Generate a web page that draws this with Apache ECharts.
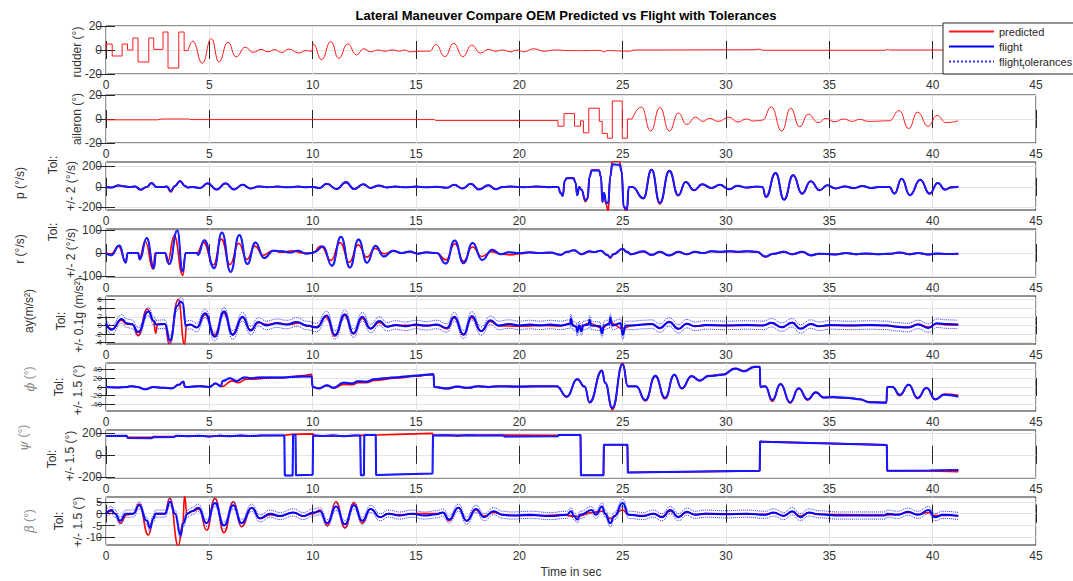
<!DOCTYPE html>
<html><head><meta charset="utf-8">
<script src="https://cdn.jsdelivr.net/npm/echarts@6/dist/echarts.min.js"></script>
<style>html,body{margin:0;padding:0;background:#fff}#c{width:1073px;height:581px}</style>
</head><body><div id="c"></div>
<script>
// ---------------- DATA (time s, value) ----------------
const TITLE = 'Lateral Maneuver Compare OEM Predicted vs Flight with Tolerances';
const X_LABEL = 'Time in sec';
const SERIES_NAMES = ['predicted', 'flight', 'flight_tolerances'];

const RUDDER_STEPS = [[0,0],[0,5],[0.3,5],[0.3,-5],[0.78,-5],[0.78,5],[1.04,5],[1.04,0],[1.3,0],[1.3,10],[1.55,10],[1.55,-10],[2.07,-10],[2.07,10],[2.31,10],[2.31,0.5],[2.76,0.5],[2.76,15],[3.0,15],[3.0,-15],[3.52,-15],[3.52,15],[3.78,15],[3.78,-0.5],[3.97,-0.5]];
const RUDDER_OSC = [[3.97,-0.5],[4.2,7.3],[4.66,-11],[5.1,9.6],[5.46,-10],[5.9,6.5],[6.29,-5.7],[6.74,2.3],[7.12,-2],[7.5,0.5],[7.84,-1.5],[8.15,0.3],[8.5,-2],[8.84,0.8],[9.33,-2.5],[9.67,-0.5],[9.96,-1],[10.02,5],[10.43,-8],[10.88,7],[11.26,-7],[11.69,5],[12.12,-4],[12.47,1],[12.8,-1.5],[13.16,0],[13.5,-1],[13.85,0],[14.2,-1],[14.45,0],[14.7,-1.5],[15.2,-1],[15.66,-1],[15.96,4.5],[16.4,-5.5],[16.82,5.5],[17.27,-5.5],[17.69,4],[18.12,-2.5],[18.5,0.5],[18.86,-1],[19.2,0],[19.55,-1.5],[19.9,0],[20.2,-1.5],[20.7,1],[21.2,-1],[21.7,0],[22.5,-0.5],[23.1,-0.5],[23.9,-0.3],[24.06,-1.5],[24.3,-0.5],[25.3,-1],[25.6,0],[31.3,0.2],[31.6,0.7],[31.8,-0.2],[37.7,-0.2],[37.8,0.5],[37.95,0],[41.27,0]];

const AILERON_STEPS = [[0,-0.7],[2.5,-0.7],[2.7,0],[4.0,0],[4.1,-0.5],[15.9,-0.5],[15.95,-1.2],[21.87,-1.2],[21.87,-6],[22.16,-6],[22.16,4.5],[22.67,4.5],[22.67,-6],[22.96,-6],[22.96,-1.5],[23.1,-1.5],[23.1,-11.5],[23.36,-11.5],[23.36,9],[23.87,9],[23.87,-2],[24.01,-2],[24.01,-12],[24.26,-12],[24.26,-16],[24.5,-16],[24.5,15],[24.98,15],[24.98,-16],[25.23,-16],[25.23,0],[25.46,0]];
const AILERON_OSC = [[25.46,0],[25.9,10],[26.36,-10],[26.8,9.7],[27.26,-10],[27.69,5],[28.1,-4.5],[28.53,1.5],[28.87,-2],[29.2,0.5],[29.63,-2],[30.14,1.5],[30.57,-2.5],[30.99,0],[31.33,-1.7],[31.76,-1],[32.19,10],[32.7,-10],[33.13,9],[33.56,-6.5],[33.98,4],[34.46,-3],[34.84,0.5],[35.26,-2.3],[35.69,0],[36.12,-2],[36.46,-0.3],[36.89,-2],[37.9,-1.5],[38.38,7],[38.84,-8],[39.27,5.7],[39.78,-6],[40.21,2.9],[40.64,-3],[41.24,-1.5]];

const P_PRED = [[0,0],[0.27,-5],[0.6,15],[0.92,5],[1.16,0],[1.4,5],[1.68,-30],[1.97,0],[2.2,40],[2.45,0],[2.77,0],[2.94,5],[3.13,-50],[3.34,10],[3.58,60],[3.82,10],[3.94,-5],[4.19,0],[4.55,-12],[4.92,35],[5.35,-28],[5.79,35],[6.19,-25],[6.61,22],[7.0,-15],[7.4,5],[7.8,-3],[8.3,3],[8.8,-3],[9.3,3],[9.7,-2],[10.03,0],[10.32,-12],[10.68,30],[11.16,-22],[11.61,42],[12.0,-20],[12.45,25],[12.8,-10],[13.2,12],[13.58,-5],[14.0,3],[14.5,-3],[15.0,3],[15.5,-3],[16.0,2],[16.5,-8],[16.85,20],[17.25,-15],[17.65,28],[18.05,-20],[18.5,15],[18.85,-18],[19.2,0],[19.6,3],[20.2,-3],[20.8,3],[21.4,-2],[21.87,0],[22.0,-60],[22.1,-90],[22.2,60],[22.3,90],[22.62,90],[22.72,40],[22.8,-80],[22.9,0],[23.0,-30],[23.2,-145],[23.3,-120],[23.4,100],[23.5,165],[23.85,165],[23.95,100],[24.02,-150],[24.1,-60],[24.2,-170],[24.3,-240],[24.4,100],[24.5,250],[24.85,250],[24.95,150],[25.05,-200],[25.2,-250],[25.3,0],[25.46,0],[26.0,-115],[26.4,170],[26.8,-165],[27.26,160],[27.69,-85],[28.05,50],[28.45,-35],[28.85,25],[29.3,-12],[29.7,20],[30.15,-25],[30.55,12],[31.0,-8],[31.5,2],[31.76,0],[31.93,-100],[32.4,135],[32.81,-125],[33.25,115],[33.68,-68],[34.1,55],[34.53,-35],[34.9,16],[35.3,-15],[35.75,5],[36.18,-12],[36.6,8],[37.03,-10],[37.4,0],[37.9,0],[38.15,-65],[38.5,80],[38.9,-80],[39.4,70],[39.85,-68],[40.25,40],[40.6,-28],[40.9,0],[41.24,2]];
const P_FLIGHT = [[0,0],[0.27,-5],[0.6,15],[0.92,5],[1.16,0],[1.4,5],[1.68,-25],[1.97,0],[2.2,35],[2.45,0],[2.77,0],[2.94,5],[3.13,-40],[3.34,10],[3.58,55],[3.82,10],[3.94,-5],[4.19,0],[4.55,-10],[4.92,35],[5.35,-25],[5.79,35],[6.19,-25],[6.61,20],[7.0,-15],[7.4,5],[7.8,-3],[8.3,4],[8.8,-4],[9.3,3],[9.7,-3],[10.03,0],[10.32,-10],[10.68,32],[11.16,-20],[11.61,48],[12.0,-20],[12.45,25],[12.8,-10],[13.2,15],[13.58,-5],[14.0,4],[14.5,-4],[15.0,3],[15.5,-4],[16.0,2],[16.5,-8],[16.85,22],[17.25,-16],[17.65,32],[18.05,-25],[18.5,16],[18.85,-22],[19.2,0],[19.6,4],[20.2,-3],[20.8,4],[21.4,-2],[21.87,0],[22.0,-60],[22.1,-85],[22.2,60],[22.3,85],[22.62,85],[22.72,40],[22.8,-80],[22.9,0],[23.0,-25],[23.2,-130],[23.3,-110],[23.4,100],[23.5,160],[23.85,160],[23.95,100],[24.02,-145],[24.1,-60],[24.2,-150],[24.3,-160],[24.4,100],[24.5,220],[24.85,215],[24.95,150],[25.05,-190],[25.2,-220],[25.3,0],[25.46,0],[26.0,-110],[26.4,168],[26.8,-155],[27.26,155],[27.69,-80],[28.05,48],[28.45,-32],[28.85,25],[29.3,-10],[29.7,20],[30.15,-22],[30.55,12],[31.0,-6],[31.5,3],[31.76,0],[31.93,-97],[32.4,135],[32.81,-123],[33.25,113],[33.68,-65],[34.1,55],[34.53,-32],[34.9,16],[35.3,-15],[35.75,5],[36.18,-12],[36.6,8],[37.03,-10],[37.4,0],[37.9,0],[38.15,-65],[38.5,80],[38.9,-80],[39.4,70],[39.85,-65],[40.25,39],[40.6,-26],[40.9,-5],[41.24,2]];

const R_PRED = [[0,0],[0.25,-5],[0.6,30],[0.95,-35],[1.05,0],[1.55,0],[1.62,-20],[1.9,50],[2.28,-70],[2.38,0],[2.85,0],[2.98,-40],[3.3,75],[3.72,-97],[3.85,0],[4.4,0],[4.72,45],[5.2,-52],[5.58,60],[6.0,-50],[6.42,42],[6.82,-28],[7.2,30],[7.6,-10],[8.05,10],[8.5,3],[9.0,10],[9.5,0],[10.0,0],[10.4,30],[10.88,-32],[11.33,45],[11.77,-40],[12.2,35],[12.62,-18],[13.02,20],[13.45,-3],[13.9,8],[14.3,0],[14.7,5],[15.1,-2],[15.5,2],[16.0,0],[16.45,-30],[16.88,40],[17.3,-35],[17.73,26],[18.18,-15],[18.65,6],[19.1,-5],[19.6,-8],[20.0,-3],[20.5,2],[21.0,-1],[21.5,1],[22.0,-8],[22.3,4],[22.65,12],[23.0,-6],[23.4,6],[23.6,3],[23.95,9],[24.25,-10],[24.4,-22],[24.55,-6],[25.0,16],[25.2,5],[25.4,-6],[26.0,6],[26.4,-10],[26.8,4],[27.25,-12],[27.7,4],[28.1,-6],[28.5,4],[28.9,0],[29.3,7],[29.7,5],[30.2,7],[30.6,5],[31.0,7],[31.5,5],[31.9,-17],[32.3,-4],[32.8,4],[33.2,-6],[33.7,4],[34.1,-11],[34.5,-4],[35.3,-6],[35.8,-1],[36.3,-6],[36.8,-3],[37.3,-5],[37.9,-4],[38.4,1],[38.9,-6],[39.3,-1],[39.8,-7],[40.2,-3],[40.7,-5],[41.24,-4]];
const R_FLIGHT = [[0,0],[0.25,-10],[0.65,32],[0.95,-42],[1.06,0],[1.55,0],[1.63,-28],[1.97,65],[2.32,-66],[2.42,0],[2.85,0],[3.06,-48],[3.45,98],[3.71,-80],[3.86,0],[4.4,0],[4.45,-8],[4.76,55],[5.23,-66],[5.61,89],[6.03,-82],[6.45,78],[6.84,-48],[7.23,46],[7.65,-22],[8.1,10],[8.5,8],[8.9,2],[9.3,10],[9.7,-3],[10.0,0],[10.1,5],[10.5,28],[10.93,-55],[11.37,70],[11.8,-63],[12.22,58],[12.63,-42],[13.04,31],[13.44,-15],[13.9,10],[14.3,0],[14.7,6],[15.1,-3],[15.5,3],[16.0,0],[16.44,-46],[16.87,54],[17.3,-44],[17.74,43],[18.2,-30],[18.69,14],[19.1,-5],[19.5,3],[20.0,0],[20.5,3],[21.0,0],[21.5,2],[22.0,-8],[22.3,5],[22.65,12],[23.0,-5],[23.4,8],[23.6,4],[23.95,10],[24.25,-8],[24.4,-18],[24.55,-5],[25.0,18],[25.2,5],[25.4,-5],[26.0,8],[26.4,-8],[26.8,5],[27.25,-10],[27.7,5],[28.1,-5],[28.5,5],[28.9,0],[29.3,8],[29.7,5],[30.2,8],[30.6,5],[31.0,8],[31.5,5],[31.9,-15],[32.3,-3],[32.8,5],[33.2,-5],[33.7,5],[34.1,-10],[34.5,-3],[35.3,-6],[35.8,0],[36.3,-5],[36.8,-2],[37.3,-5],[37.9,-3],[38.4,2],[38.9,-5],[39.3,0],[39.8,-6],[40.2,-2],[40.7,-4],[41.24,-3]];

const AY_PRED = [[0,0.3],[0.3,-0.8],[0.75,1.2],[1.0,0.3],[1.3,0.2],[1.55,-2.3],[2.0,3.8],[2.3,1],[2.4,-1.8],[2.5,0.3],[2.85,0.3],[3.05,-4.2],[3.5,6],[3.8,-4.4],[3.9,0],[4.1,0.2],[4.4,-0.5],[4.8,2.5],[5.25,-2.2],[5.7,2.8],[6.12,-2],[6.6,1.8],[7.0,-1],[7.4,0.6],[7.8,0.2],[8.3,0.6],[8.8,0.2],[9.3,0.5],[9.8,-0.2],[10.2,-0.3],[10.65,1.9],[11.08,-2.5],[11.55,2.3],[11.97,-2],[12.4,1.6],[12.8,-0.8],[13.23,0.7],[13.6,-0.3],[14,0],[15,0],[16.0,0.1],[16.5,-0.8],[16.85,1.7],[17.3,-2.2],[17.7,1.8],[18.15,-1.4],[18.6,0.9],[19.0,-0.1],[20,-0.2],[21,0],[22,-0.1],[22.5,0.5],[22.8,-0.5],[23.4,0.5],[24.0,-0.6],[24.4,0.6],[25.0,-0.7],[25.5,0],[26.4,0.4],[26.8,-0.7],[27.25,0.9],[27.7,-0.8],[28.1,0.4],[28.5,-0.2],[29,0],[31.8,0],[32.2,0.5],[32.7,-0.5],[33.2,0.7],[33.6,-0.7],[34.1,0.3],[34.5,-0.2],[35,0],[37.8,0],[38.2,-0.2],[38.8,-0.4],[39.3,0.3],[39.8,-0.4],[40.2,0.4],[40.7,0.1],[41.24,0.1]];
const AY_FLIGHT = [[0,0.5],[0.27,-1],[0.76,1.5],[1.0,0.5],[1.24,0.3],[1.56,-1.5],[2.05,3.2],[2.32,1],[2.42,0.2],[2.85,0.3],[3.1,-3.5],[3.45,4.5],[3.6,5.5],[3.71,5.2],[3.86,0],[4.06,0.2],[4.39,-0.5],[4.79,2.8],[5.27,-2.6],[5.71,3.2],[6.13,-2.2],[6.61,2],[7.0,-1.2],[7.37,0.8],[7.77,0],[8.26,0.5],[8.74,0.2],[9.23,0.8],[9.71,0],[10.19,-0.5],[10.68,2.3],[11.08,-2.2],[11.56,2.6],[11.97,-1.8],[12.4,2],[12.8,-0.7],[13.23,1],[13.6,-0.3],[14.0,0.1],[14.5,-0.2],[15.0,0.2],[15.5,-0.1],[16.0,0.2],[16.5,-0.6],[16.85,2],[17.3,-2.1],[17.7,2.2],[18.15,-1.3],[18.6,1.2],[19.0,0],[19.5,0.3],[20.0,0],[20.5,0.2],[21.0,0],[21.5,0.2],[22.0,0],[22.45,0.3],[22.5,1.6],[22.58,0],[22.75,-0.3],[22.8,-1.5],[22.9,0],[23.0,-1.3],[23.1,0],[23.35,0.2],[23.4,1.3],[23.48,0],[23.9,-0.2],[24.0,-1.8],[24.1,0],[24.35,0.3],[24.4,1.8],[24.5,0],[24.9,0.5],[25.0,-2.2],[25.15,0],[25.5,0],[26.0,0.2],[26.4,0.3],[26.8,-0.6],[27.25,0.8],[27.7,-0.8],[28.1,0.4],[28.5,-0.2],[29.0,0.1],[30.0,0],[31.0,0.1],[31.8,0],[32.2,0.6],[32.7,-0.4],[33.2,0.6],[33.6,-0.8],[34.1,0.3],[34.5,-0.2],[35.0,0.1],[36.0,0],[37.0,0.1],[37.8,0],[38.2,-0.3],[38.8,-0.5],[39.3,0.2],[39.8,-0.6],[40.2,0.5],[40.7,0.3],[41.24,0.2]];

const PHI_PRED = [[0,0],[0.5,-1],[1.0,0],[1.2,2],[1.5,0],[1.9,-5],[2.3,0],[2.8,-2],[3.2,-3],[3.5,4],[3.75,11],[3.82,0],[4.0,0],[4.5,2],[5.0,0],[5.3,8],[5.6,1],[6.1,14],[6.4,10],[6.8,18],[7.2,18],[7.7,20],[8.5,21],[9.0,24],[9.5,26],[9.95,29],[10.0,0],[10.3,-4],[10.7,3],[11.0,-3],[11.5,6],[11.9,5],[12.2,10],[12.6,10],[13.0,15],[14.0,20],[15.0,25],[15.85,29],[15.88,0],[16.5,-4],[17.0,0],[17.5,-3],[18.0,1],[18.5,-1],[19.0,1],[20.0,0],[21.0,1],[21.8,1],[22.3,-23],[22.8,18],[23.16,0],[23.4,-36],[24.0,38],[24.15,10],[24.5,-52],[25.0,55],[25.25,1],[25.65,1],[26.1,-32],[26.58,26],[27.05,-27],[27.5,28],[27.86,-4],[28.34,24],[28.73,14],[29.16,26],[29.84,29],[30.44,43],[30.87,37],[31.38,47],[31.64,47],[31.66,0],[31.9,1],[32.24,-33],[32.64,6],[33.1,-37],[33.52,-4],[33.95,-30],[34.35,-13],[34.72,-24],[35.15,-24],[35.92,-25],[36.44,-28],[36.95,-34],[37.76,-35],[37.8,0],[38.06,0],[38.4,-20],[38.84,5],[39.27,-27],[39.7,-3],[40.13,-29],[40.56,-16],[41.24,-19]];
const PHI_FLIGHT = [[0,0],[0.5,-1],[1.0,0],[1.2,2],[1.5,0],[1.9,-5],[2.3,0],[2.8,-2],[3.2,-3],[3.5,5],[3.75,12],[3.82,0],[4.0,0],[4.5,2],[5.0,0],[5.3,8],[5.55,2],[5.65,14],[6.0,20],[6.3,14],[6.7,22],[7.0,20],[7.5,22],[8.0,22],[8.5,22],[9.0,23],[9.5,24],[9.95,24],[10.0,0],[10.3,-3],[10.7,4],[11.0,-2],[11.5,10],[11.9,8],[12.2,13],[12.6,12],[13.0,18],[13.5,20],[14.0,22],[14.5,24],[15.0,26],[15.5,28],[15.85,29],[15.88,0],[16.5,-3],[17.0,1],[17.5,-2],[18.0,2],[18.5,0],[19.0,2],[20.0,1],[21.0,2],[21.8,2],[22.3,-22],[22.8,18],[23.16,1],[23.4,-35],[24.0,37],[24.15,10],[24.5,-48],[25.0,52],[25.25,2],[25.65,2],[26.1,-30],[26.58,25],[27.05,-25],[27.5,28],[27.86,-3],[28.34,25],[28.73,15],[29.16,25],[29.84,28],[30.44,42],[30.87,36],[31.38,46],[31.64,46],[31.66,0],[31.9,2],[32.24,-30],[32.64,7],[33.1,-35],[33.52,-3],[33.95,-28],[34.35,-12],[34.72,-24],[35.15,-23],[35.92,-25],[36.44,-28],[36.95,-35],[37.76,-36],[37.8,0],[38.06,0],[38.4,-18],[38.84,5],[39.27,-25],[39.7,-2],[40.13,-28],[40.56,-18],[41.24,-22]];

const PSI_PRED = [[0,170],[1.0,172],[1.05,162],[2.2,158],[2.3,165],[3.3,165],[3.4,172],[4.0,168],[4.5,172],[5.0,166],[5.5,174],[6.0,168],[6.5,175],[7.0,170],[7.5,175],[8.63,178],[9.0,185],[10.0,190],[10.1,176],[10.5,171],[11.0,176],[11.5,169],[12.0,175],[12.3,176],[13.1,180],[14.5,188],[15.8,194],[15.82,178],[17.0,176],[19.3,180],[21.87,178],[21.9,180],[22.96,180],[22.98,-185],[24.07,-185],[24.09,92],[25.23,92],[25.25,-160],[31.63,-145],[31.65,120],[37.78,90],[37.8,-145],[39.85,-145],[41.24,-152]];
const PSI_FLIGHT = [[0,170],[1.0,172],[1.05,153],[2.2,150],[2.3,160],[3.3,162],[3.4,172],[4.0,168],[4.5,172],[5.0,165],[5.5,174],[6.0,168],[6.5,175],[7.0,170],[7.5,175],[8.63,176],[8.65,-188],[9.03,-188],[9.05,180],[9.17,180],[9.19,-185],[10.0,-180],[10.02,175],[10.5,170],[11.0,175],[11.5,168],[12.0,175],[12.3,175],[12.33,-185],[12.48,-185],[12.5,180],[13.05,180],[13.07,-182],[15.8,-170],[15.82,175],[16.5,178],[17.0,172],[17.5,178],[18.0,175],[19.2,176],[19.3,165],[21.87,168],[21.9,180],[22.96,180],[22.98,-185],[24.07,-185],[24.09,92],[25.23,92],[25.25,-160],[31.63,-145],[31.65,120],[37.78,90],[37.8,-145],[39.85,-142],[41.24,-138]];

const BETA_PRED = [[0,0],[0.27,1],[0.45,0],[0.7,-4],[1.0,-0.5],[1.32,0],[1.6,4],[2.05,-9],[2.3,-2],[2.4,0],[2.85,0],[3.08,6.5],[3.5,-13.5],[3.72,-4],[3.8,7.5],[3.92,0],[4.2,1],[4.5,2],[4.87,-7],[5.27,6.5],[5.71,-8],[6.16,5],[6.56,-5.5],[7.05,2.5],[7.45,-2],[7.94,-0.5],[8.42,-1],[9.06,0.5],[9.55,-1],[10.03,0],[10.35,1.5],[10.71,-5],[11.13,5],[11.56,-6],[12.0,4.5],[12.4,-4],[12.8,2],[13.26,-1.5],[13.66,0],[14.2,-0.5],[15,0],[16.0,0],[16.3,0.5],[16.6,-3],[17.05,2.5],[17.45,-3],[17.9,1.5],[18.3,-1],[18.75,0.5],[19.2,-0.5],[20,-0.8],[21,-0.8],[22,-0.5],[22.8,-1.2],[23.5,0.5],[24.0,1],[24.4,-2],[25.0,1.5],[25.3,-0.5],[26.0,-0.8],[26.5,0],[26.9,-1.2],[27.3,1],[27.7,-1.2],[28.1,0.5],[28.5,-0.3],[29,0],[31,-0.2],[31.9,-0.3],[32.3,0.3],[32.8,-0.8],[33.2,0.8],[33.6,-1],[34.0,0.3],[34.5,-0.3],[37.7,-0.6],[38.3,-0.3],[38.8,0.5],[39.3,-0.3],[39.8,0.5],[40.1,-0.8],[41.24,-0.8]];
const BETA_FLIGHT = [[0,0],[0.27,1.5],[0.43,0],[0.68,-3],[0.97,0],[1.32,0],[1.61,3.5],[1.97,-3],[2.13,-6],[2.29,-2],[2.4,0],[2.85,0],[3.1,5],[3.34,0],[3.61,-9],[3.74,-4],[3.94,0],[4.15,1],[4.47,2.5],[4.87,-4],[5.27,4.5],[5.71,-5],[6.16,3.5],[6.56,-4],[7.05,2.5],[7.45,-2],[7.94,0],[8.42,-1],[9.06,0.5],[9.55,-1],[10.03,0.5],[10.35,1],[10.71,-4],[11.13,3],[11.56,-4.5],[12.0,3.5],[12.4,-3],[12.8,2],[13.26,-1.5],[13.66,0],[14.2,-0.8],[14.8,0],[15.4,-0.8],[16.0,-0.3],[16.3,0.5],[16.6,-2.5],[17.05,2.5],[17.45,-3],[17.9,2],[18.3,-1.5],[18.75,1],[19.2,-0.5],[19.6,-0.8],[20.5,-0.5],[21.5,-1],[22.3,-0.5],[22.5,1],[22.65,-1],[22.8,-2.5],[22.95,-0.5],[23.5,1.5],[23.7,-0.5],[24.0,3],[24.15,0],[24.4,-4],[24.6,-1],[25.0,4.5],[25.3,-0.5],[26.0,-1],[26.5,0],[26.9,-1.5],[27.3,1.5],[27.7,-1.5],[28.1,0.8],[28.5,-0.5],[29.0,0],[30,-0.3],[31,0],[31.9,-0.5],[32.3,0.5],[32.8,-1],[33.2,1],[33.6,-1.5],[34.0,0.5],[34.5,-0.3],[35.5,-0.8],[36.5,-0.8],[37.7,-0.8],[37.8,0],[38.3,-0.5],[38.8,0.8],[39.3,-0.5],[39.8,1.5],[40.1,-1.5],[40.5,-0.5],[41.24,-1]];

// tolerances stated on the chart
const P_TOL = 2, R_TOL = 2, AY_TOL = 0.981, PHI_TOL = 1.5, PSI_TOL = 1.5, BETA_TOL = 1.5;

// axis limits and tick values per panel
const Y_LIMITS = [[-20,20],[-20,20],[-225,243],[-104,104],[-4.3,6.8],[-55,55],[-210,225],[-13.2,7]];
const Y_TICKS = [[-20,0,20],[-20,0,20],[-200,0,200],[-100,0,100],[-4,-2,0,2,4,6],[-40,-20,0,20,40],[-200,0,200],[-10,-5,0,5]];
const X_MIN = 0, X_MAX = 45, X_STEP = 5;

// y-axis label texts
const NAME_TEXT = ['rudder (°)','aileron (°)','p (°/s)','r (°/s)','ay(m/s²)','{i|ϕ} (°)','{i|ψ} (°)','{i|β} (°)'];
const TOL_HEAD = [null,null,'Tol:','Tol:','Tol:','Tol:','Tol:','Tol:'];
const TOL_TEXT = [null,null,'+/- 2 (°/s)','+/- 2 (°/s)','+/- 0.1g (m/s²)','+/- 1.5 (°)','+/- 1.5 (°)','+/- 1.5 (°)'];

// ---------------- LAYOUT ----------------
const GRID_LEFT = 106, GRID_W = 930, GRID_H = 48;
const GRID_TOPS = [26, 95, 162, 229, 296, 363, 430, 497];
const Y_TICK_FONT = [12, 12, 12, 12, 8, 8, 12, 11];
// [x, dy] positions of labels relative to panel centre
const NAME_POS = [[77,2],[77,0],[20,-3],[20,-4],[29,-9],[29,-8],[23,-16],[29,0]];
const HEAD_POS = [null,null,[53,-21],[53,-21],[61,1],[59,0],[52,5],[59,0]];
const TOLT_POS = [null,null,[71,0],[71,0],[79,-5],[78,3],[70,2],[78,1]];
const NAME_GRAY = [false,false,false,false,false,true,true,true];

const FONT = 'Liberation Sans';
const AX_COLOR = '#262626';
const GRID_COLOR = '#e4e4e4';

const chart = echarts.init(document.getElementById('c'), null, {renderer: 'svg', width: 1073, height: 581});

const grids = [], xAxes = [], yAxes = [], series = [], graphics = [];
GRID_TOPS.forEach((top, i) => {
  grids.push({left: GRID_LEFT, top: top, width: GRID_W, height: GRID_H, show: true,
    borderColor: AX_COLOR, borderWidth: 1, backgroundColor: '#fff', containLabel: false});
  const last = i === GRID_TOPS.length - 1;
  xAxes.push({gridIndex: i, type: 'value', position: 'bottom', min: X_MIN, max: X_MAX, interval: X_STEP,
    axisLine: {show: false},
    axisTick: {show: true, inside: true, length: 9, lineStyle: {color: AX_COLOR}},
    axisLabel: {show: true, fontSize: 12, color: '#333', margin: 5, fontFamily: FONT},
    splitLine: {show: true, lineStyle: {color: GRID_COLOR, width: 1}},
    name: last ? X_LABEL : '', nameLocation: 'middle', nameGap: 21,
    nameTextStyle: {fontSize: 12, color: '#333', fontFamily: FONT}});
  xAxes.push({gridIndex: i, type: 'value', position: 'top', min: X_MIN, max: X_MAX, interval: X_STEP,
    axisLine: {show: false}, axisTick: {show: true, inside: true, length: 9, lineStyle: {color: AX_COLOR}},
    axisLabel: {show: false}, splitLine: {show: false}});
  const [ymin, ymax] = Y_LIMITS[i];
  const ticks = Y_TICKS[i];
  yAxes.push({gridIndex: i, type: 'value', position: 'left', min: ymin, max: ymax,
    axisLine: {show: false},
    axisTick: {show: true, inside: true, length: 9, customValues: ticks, lineStyle: {color: AX_COLOR}},
    axisLabel: {show: true, customValues: ticks, fontSize: Y_TICK_FONT[i], color: '#333', margin: 4, fontFamily: FONT},
    splitLine: {show: true, customValues: ticks, lineStyle: {color: GRID_COLOR, width: 1}}});
  yAxes.push({gridIndex: i, type: 'value', position: 'right', min: ymin, max: ymax,
    axisLine: {show: false},
    axisTick: {show: true, inside: true, length: 9, customValues: ticks, lineStyle: {color: AX_COLOR}},
    axisLabel: {show: false, customValues: ticks}, splitLine: {show: false}});

  const cy = top + GRID_H / 2;
  const labelStyle = (text, gray) => ({text: text, fontSize: 12, fontFamily: FONT, fill: gray ? '#8a8a8a' : '#333',
    align: 'center', verticalAlign: 'middle', rich: {i: {fontStyle: 'italic', fontSize: 13, fontFamily: 'DejaVu Serif', fill: gray ? '#8a8a8a' : '#333'}}});
  graphics.push({type: 'text', x: NAME_POS[i][0], y: cy + NAME_POS[i][1], rotation: Math.PI / 2,
    style: labelStyle(NAME_TEXT[i], NAME_GRAY[i]), z: 100});
  if (TOL_HEAD[i]) {
    graphics.push({type: 'text', x: HEAD_POS[i][0], y: cy + HEAD_POS[i][1], rotation: Math.PI / 2,
      style: labelStyle(TOL_HEAD[i], false), z: 100});
    graphics.push({type: 'text', x: TOLT_POS[i][0], y: cy + TOLT_POS[i][1], rotation: Math.PI / 2,
      style: labelStyle(TOL_TEXT[i], false), z: 100});
  }
});

function addLine(name, data, gi, color, width, smooth, type) {
  series.push({type: 'line', name: name, data: data, xAxisIndex: gi * 2, yAxisIndex: gi * 2,
    showSymbol: false, symbol: 'none', smooth: smooth, smoothMonotone: 'x', clip: true, animation: false,
    lineStyle: {color: color, width: width, type: type || 'solid'}, itemStyle: {color: color},
    emphasis: {disabled: true}});
}
function addPanel(gi, pred, flight, tol, smooth) {
  addLine(SERIES_NAMES[0], pred, gi, '#ff0000', 1.6, smooth);
  addLine(SERIES_NAMES[1], flight, gi, '#0000ff', 2, smooth);
  addLine(SERIES_NAMES[2], flight.map(p => [p[0], p[1] + tol]), gi, '#3333ff', 1, smooth, 'dotted');
  addLine(SERIES_NAMES[2], flight.map(p => [p[0], p[1] - tol]), gi, '#3333ff', 1, smooth, 'dotted');
}
const SM = 0.5;
addLine(SERIES_NAMES[0], RUDDER_STEPS, 0, '#ff1a1a', 1, false);
addLine(SERIES_NAMES[0], RUDDER_OSC, 0, '#ff1a1a', 1, SM);
addLine(SERIES_NAMES[0], AILERON_STEPS, 1, '#ff1a1a', 1, false);
addLine(SERIES_NAMES[0], AILERON_OSC, 1, '#ff1a1a', 1, SM);
addPanel(2, P_PRED, P_FLIGHT, P_TOL, SM);
addPanel(3, R_PRED, R_FLIGHT, R_TOL, SM);
addPanel(4, AY_PRED, AY_FLIGHT, AY_TOL, SM);
addPanel(5, PHI_PRED, PHI_FLIGHT, PHI_TOL, SM);
addPanel(6, PSI_PRED, PSI_FLIGHT, PSI_TOL, false);
addPanel(7, BETA_PRED, BETA_FLIGHT, BETA_TOL, SM);

chart.setOption({
  animation: false,
  textStyle: {fontFamily: FONT},
  title: {text: TITLE, left: 566, top: 9, textAlign: 'center', textVerticalAlign: 'top', padding: 0,
    textStyle: {fontSize: 13, fontWeight: 'bold', color: '#000', fontFamily: FONT}},
  legend: {data: SERIES_NAMES, orient: 'vertical', left: 943, top: 23, itemWidth: 45, itemHeight: 12, itemGap: 4,
    padding: [3, 8, 4, 5], backgroundColor: '#fff', borderColor: AX_COLOR, borderWidth: 1, borderRadius: 0,
    selectedMode: false, z: 20, itemStyle: {opacity: 0},
    textStyle: {fontSize: 11, color: '#262626', fontFamily: FONT, rich: {s: {fontSize: 8, color: '#262626', padding: [9, 0, 0, 0]}}},
    formatter: n => n === 'flight_tolerances' ? 'flight{s|t}olerances' : n},
  grid: grids, xAxis: xAxes, yAxis: yAxes, series: series, graphic: graphics
});
</script></body></html>
